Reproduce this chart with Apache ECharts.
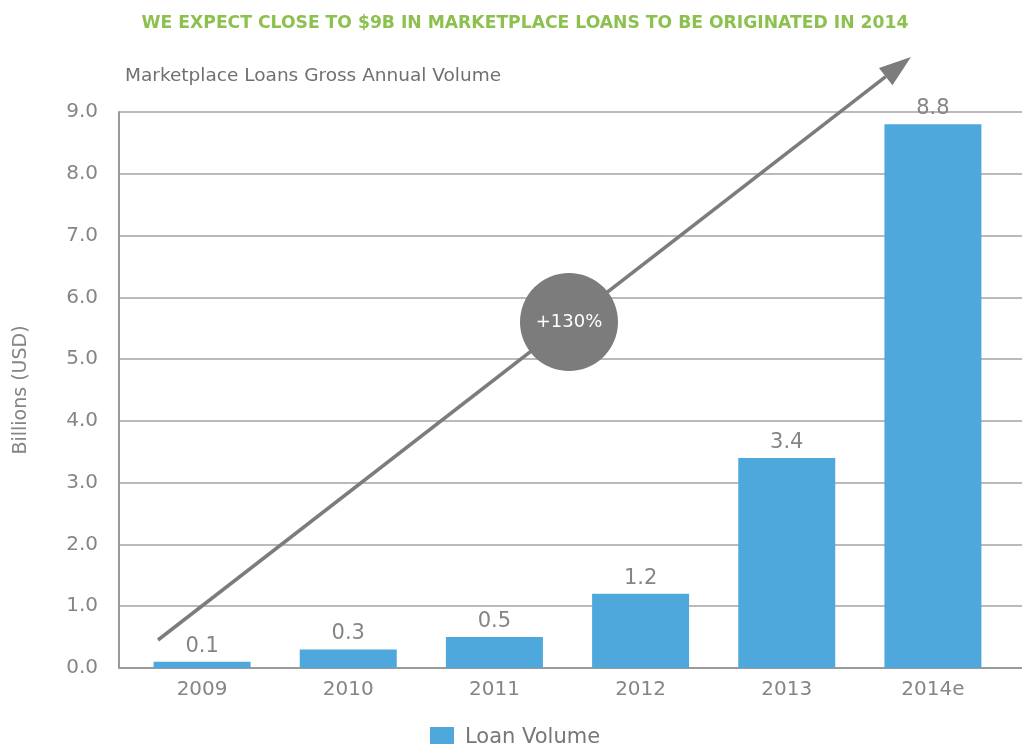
<!DOCTYPE html>
<html>
<head>
<meta charset="utf-8">
<title>Marketplace Loans Gross Annual Volume</title>
<script src="https://cdn.jsdelivr.net/npm/echarts@6/dist/echarts.min.js"></script>
<style>
  html, body { margin: 0; padding: 0; background: #ffffff; }
  #chart { width: 1022px; height: 744px; }
</style>
</head>
<body>
<div id="chart"></div>
<script>
// Annual gross volume of marketplace loans, in billions of USD
const years = ['2009', '2010', '2011', '2012', '2013', '2014e'];
const loanVolume = [0.1, 0.3, 0.5, 1.2, 3.4, 8.8];
const seriesName = 'Loan Volume';
const headline = 'WE EXPECT CLOSE TO $9B IN MARKETPLACE LOANS TO BE ORIGINATED IN 2014';
const subhead = 'Marketplace Loans Gross Annual Volume';
const yAxisTitle = 'Billions (USD)';
const growthLabel = '+130%';

const FONT = '"DejaVu Sans", "Noto Sans", sans-serif';
const GREY_TEXT = '#858585';
const GREY_LINE = '#a3a3a3';
const BAR_BLUE = '#4fa8dc';
const ARROW_GREY = '#7b7c7b';

const chart = echarts.init(document.getElementById('chart'), null, { renderer: 'canvas' });

// Growth arrow: shaft plus triangular head, with the growth badge on it
const arrowStart = [158, 640];
const arrowTip = [911, 57];
const headLen = 32, headHalf = 11;
const dx = arrowTip[0] - arrowStart[0], dy = arrowTip[1] - arrowStart[1];
const len = Math.hypot(dx, dy);
const ux = dx / len, uy = dy / len;
const base = [arrowTip[0] - ux * headLen, arrowTip[1] - uy * headLen];
const px = -uy, py = ux;

const option = {
  animation: false,
  backgroundColor: '#ffffff',
  title: [
    {
      text: headline,
      left: 520,
      textAlign: 'center',
      top: 10,
      textStyle: { fontFamily: FONT, fontWeight: 'bold', fontSize: 17.2, color: '#8cc04f' }
    },
    {
      text: subhead,
      left: 120,
      top: 62,
      textStyle: { fontFamily: FONT, fontWeight: 'normal', fontSize: 18.5, color: '#707070' }
    }
  ],
  legend: {
    data: [seriesName],
    left: 425,
    top: 722,
    icon: 'rect',
    itemWidth: 24,
    itemHeight: 21,
    textStyle: { fontFamily: FONT, fontSize: 21, color: '#777777', padding: [0, 0, 0, 6] }
  },
  grid: [
    { left: 119, right: 0, top: 112, bottom: 76 },
    { left: 129, right: 16, top: 112, bottom: 76 }
  ],
  xAxis: [
    {
      gridIndex: 0,
      type: 'value',
      min: 0,
      max: 1,
      axisLine: { show: true, lineStyle: { color: '#9a9a9a', width: 2 } },
      axisTick: { show: false },
      axisLabel: { show: false },
      splitLine: { show: false }
    },
    {
      gridIndex: 1,
      type: 'category',
      data: years,
      axisLine: { show: false },
      axisTick: { show: false },
      axisLabel: { margin: 12, fontFamily: FONT, fontSize: 20, color: GREY_TEXT }
    }
  ],
  yAxis: [
    {
      gridIndex: 0,
      type: 'value',
      min: 0,
      max: 9,
      interval: 1,
      name: yAxisTitle,
      nameLocation: 'middle',
      nameGap: 88,
      nameTextStyle: { fontFamily: FONT, fontSize: 19, color: GREY_TEXT },
      axisLine: { show: true, lineStyle: { color: '#9a9a9a', width: 2 } },
      axisTick: { show: false },
      axisLabel: {
        margin: 21,
        fontFamily: FONT,
        fontSize: 20,
        color: GREY_TEXT,
        formatter: v => v.toFixed(1)
      },
      splitLine: { show: true, lineStyle: { color: GREY_LINE, width: 1.5 } }
    },
    {
      gridIndex: 1,
      type: 'value',
      min: 0,
      max: 9,
      interval: 1,
      show: false,
      splitLine: { show: false }
    }
  ],
  series: [
    {
      name: seriesName,
      type: 'bar',
      xAxisIndex: 1,
      yAxisIndex: 1,
      data: loanVolume,
      barWidth: 97,
      itemStyle: { color: BAR_BLUE },
      label: {
        show: true,
        position: 'top',
        distance: 5,
        fontFamily: FONT,
        fontSize: 21,
        color: GREY_TEXT,
        formatter: p => p.value.toFixed(1)
      }
    }
  ],
  graphic: [
    {
      type: 'line',
      z: 50,
      shape: { x1: arrowStart[0], y1: arrowStart[1], x2: base[0], y2: base[1] },
      style: { stroke: ARROW_GREY, lineWidth: 3.5 }
    },
    {
      type: 'polygon',
      z: 50,
      shape: {
        points: [
          arrowTip,
          [base[0] + px * headHalf, base[1] + py * headHalf],
          [base[0] - px * headHalf, base[1] - py * headHalf]
        ]
      },
      style: { fill: ARROW_GREY }
    },
    {
      type: 'circle',
      z: 51,
      shape: { cx: 569, cy: 322, r: 49 },
      style: { fill: ARROW_GREY }
    },
    {
      type: 'text',
      z: 52,
      x: 569,
      y: 322,
      style: {
        text: growthLabel,
        fill: '#ffffff',
        font: '18px ' + FONT,
        align: 'center',
        verticalAlign: 'middle'
      }
    }
  ]
};

chart.setOption(option);
</script>
</body>
</html>
